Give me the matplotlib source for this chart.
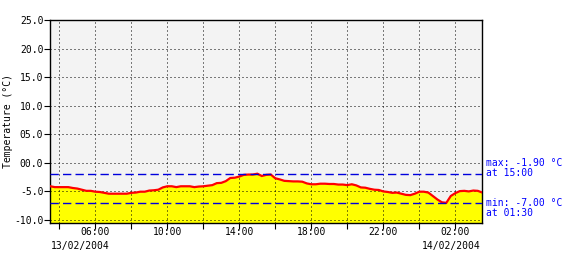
import matplotlib
matplotlib.use("Agg")
import matplotlib.pyplot as plt
import numpy as np

# ---- data (15-minute samples, 13/02/2004 03:30 -> 14/02/2004 03:30) ----
start_hour = 3.5  # 03:30 on 13/02/2004
step_hours = 0.25
temps = [
    -4.1, -4.25, -4.25, -4.25, -4.25, -4.4, -4.5, -4.7, -4.9, -4.9,   # 03:30-05:45
    -5.05, -5.1, -5.25, -5.4, -5.4, -5.4, -5.4, -5.4, -5.25, -5.2,    # 06:00-08:15
    -5.05, -5.05, -4.85, -4.8, -4.7, -4.3, -4.1, -4.1, -4.25, -4.1,   # 08:30-10:45
    -4.1, -4.1, -4.25, -4.15, -4.1, -4.0, -3.9, -3.55, -3.5, -3.2,    # 11:00-13:15
    -2.65, -2.6, -2.4, -2.1, -2.05, -2.05, -1.9, -2.3, -2.1, -2.05,   # 13:30-15:45
    -2.7, -2.9, -3.15, -3.2, -3.25, -3.25, -3.3, -3.6, -3.75, -3.75,  # 16:00-18:15
    -3.65, -3.65, -3.7, -3.7, -3.8, -3.8, -3.9, -3.75, -3.95, -4.3,   # 18:30-20:45
    -4.35, -4.55, -4.7, -4.75, -5.0, -5.1, -5.25, -5.2, -5.4, -5.6,   # 21:00-23:15
    -5.65, -5.4, -5.05, -5.05, -5.2, -5.8, -6.4, -6.9, -7.0, -5.8,    # 23:30-01:45
    -5.3, -4.95, -4.9, -5.0, -4.85, -4.9, -5.2,                       # 02:00-03:30
]
ytick_values = [25, 20, 15, 10, 5, 0, -5, -10]
ytick_labels = ["25.0", "20.0", "15.0", "10.0", "05.0", "00.0", "-5.0", "-10.0"]
xtick_hours = [6, 10, 14, 18, 22, 26]
xtick_labels = ["06:00", "10:00", "14:00", "18:00", "22:00", "02:00"]
date_labels = ["13/02/2004", "14/02/2004"]
ylabel = "Temperature (°C)"

hours = start_hour + step_hours * np.arange(len(temps))
temps_arr = np.array(temps)

W, H = 580, 260
fig = plt.figure(figsize=(W / 100, H / 100), dpi=100)
fig.patch.set_facecolor("white")
left, right, top, bottom = 50.3, 482.3, 20.0, 223.3
ax = fig.add_axes([left / W, 1 - bottom / H, (right - left) / W, (bottom - top) / H])
ax.set_facecolor("#f3f3f3")

ymin, ymax = -10.58, 25.0
ax.set_xlim(3.5, 27.5)
ax.set_ylim(ymin, ymax)

mono = "DejaVu Sans Mono"
fs = 7

ax.fill_between(hours, ymin, temps_arr, color="#ffff00", lw=0, zorder=1)

# grid
lw1 = 0.72
for h in np.arange(4, 27.1, 2):
    ax.axvline(h, color="black", lw=lw1, ls=(0, (1, 3)), zorder=2)
for v in ytick_values:
    ax.axhline(v, color="black", lw=lw1, ls=(0, (1, 3)), zorder=2)

ax.plot(hours, temps_arr, color="#ff0000", lw=1.6, zorder=3, solid_joinstyle="miter")

imax = int(np.argmax(temps_arr))
imin = int(np.argmin(temps_arr))
vmax, vmin = temps_arr[imax], temps_arr[imin]
ax.axhline(vmax, color="#0000dd", lw=1.0, ls=(0, (6, 3)), zorder=4)
ax.axhline(vmin, color="#0000dd", lw=1.0, ls=(0, (6, 3)), zorder=4)

def hhmm(h):
    h = h % 24
    return "%02d:%02d" % (int(h), int(round((h - int(h)) * 60)))

ax.set_yticks(ytick_values)
ax.set_yticklabels(ytick_labels, family=mono, fontsize=fs)
ax.set_xticks(np.arange(4, 27.1, 2))
ax.set_xticklabels(["" for _ in np.arange(4, 27.1, 2)])
ax.tick_params(axis="both", direction="out", length=4, width=0.8, color="black", pad=1)
ax.tick_params(axis="x", length=4)
for h, lab in zip(xtick_hours, xtick_labels):
    ax.text(h, -0.02, lab, transform=ax.get_xaxis_transform(), ha="center", va="top",
            family=mono, fontsize=fs)

for s in ax.spines.values():
    s.set_color("black")
    s.set_linewidth(1.0)

# date labels
fig.text(80 / W, 1 - 248.5 / H, date_labels[0], ha="center", va="baseline", family=mono, fontsize=fs)
fig.text(451 / W, 1 - 248.5 / H, date_labels[1], ha="center", va="baseline", family=mono, fontsize=fs)

# y label
fig.text(8 / W, 1 - 121 / H, ylabel, rotation=90, ha="center", va="center", family=mono, fontsize=fs)

# max/min annotations
blue = "#0000ff"
fig.text(486.5 / W, 1 - 166.5 / H, "max: %.2f °C" % vmax, ha="left", va="baseline", family=mono, fontsize=fs, color=blue)
fig.text(486.5 / W, 1 - 176 / H, "at " + hhmm(hours[imax]), ha="left", va="baseline", family=mono, fontsize=fs, color=blue)
fig.text(486.5 / W, 1 - 206 / H, "min: %.2f °C" % vmin, ha="left", va="baseline", family=mono, fontsize=fs, color=blue)
fig.text(486.5 / W, 1 - 215.5 / H, "at " + hhmm(hours[imin]), ha="left", va="baseline", family=mono, fontsize=fs, color=blue)

fig.savefig("out.png", dpi=100)
